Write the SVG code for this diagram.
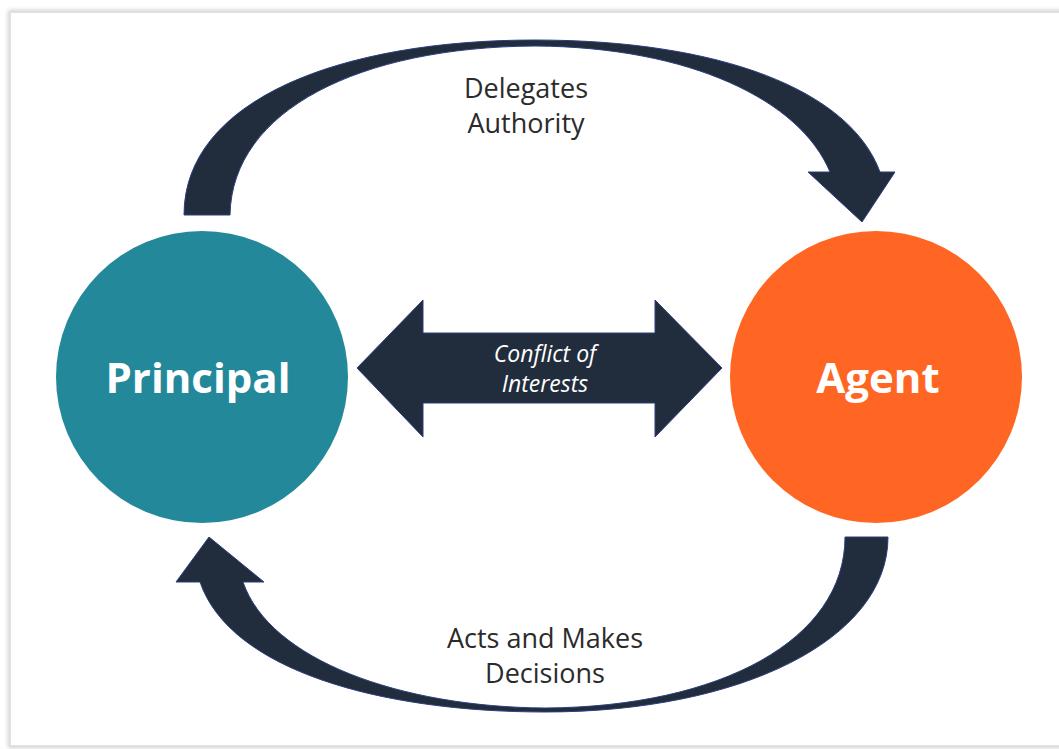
<svg xmlns="http://www.w3.org/2000/svg" width="1059" height="749" viewBox="0 0 1059 749">
  <defs>
    <filter id="shadow" x="-5%" y="-5%" width="110%" height="110%">
      <feGaussianBlur stdDeviation="2"/>
    </filter>
  </defs>
  <style>
    .arrow { fill: #212d3d; stroke: #2d3f80; stroke-width: 1; }
    .label { font-family: "Open Sans", "Liberation Sans", sans-serif; font-size: 27px; fill: #2b2b2b; text-anchor: middle; }
    .node-text { font-family: "Open Sans", "Liberation Sans", sans-serif; font-size: 42px; font-weight: bold; fill: #ffffff; text-anchor: middle; }
    .mid-text { font-family: "Open Sans", "Liberation Sans", sans-serif; font-size: 23px; font-style: italic; fill: #ffffff; text-anchor: middle; }
  </style>
  <rect width="1059" height="749" fill="#ffffff"/>
  <rect x="10" y="12" width="1070" height="734" fill="none" stroke="#bdbdbd" stroke-width="3" filter="url(#shadow)"/>
  <rect x="10.5" y="12.5" width="1070" height="733" fill="#ffffff" stroke="#e2e2e2" stroke-width="1"/>

  <g id="connectors">
    <g id="delegates">
      <path class="arrow" d="M184,215 C184,100 340,40 535,40 C720,40 850,90 880,172 L895,172 L862,222 L808,172 L830,172 C800,100 690,47 535,46 C360,47 232,110 230,215 Z"/>
      <text class="label" x="526" y="98">Delegates</text>
      <text class="label" x="526" y="133">Authority</text>
    </g>
    <g id="acts">
      <path class="arrow" d="M888,537 C888,640 740,712 545,712 C380,712 230,670 200,582 L176,582 L209,537 L264,582 L243,582 C270,660 400,707 545,708 C720,707 845,640 845,537 Z"/>
      <text class="label" x="545" y="648">Acts and Makes</text>
      <text class="label" x="545" y="683">Decisions</text>
    </g>
    <g id="conflict">
      <polygon class="arrow" points="357,368 423,300 423,333 655,333 655,300 722,368 655,437 655,403 423,403 423,437"/>
      <text class="mid-text" x="545" y="362">Conflict of</text>
      <text class="mid-text" x="545" y="392">Interests</text>
    </g>
  </g>

  <g id="principal">
    <circle cx="202" cy="377" r="146" fill="#23899a"/>
    <text class="node-text" x="198" y="393">Principal</text>
  </g>
  <g id="agent">
    <circle cx="876" cy="377" r="146" fill="#ff6624"/>
    <text class="node-text" x="878" y="393">Agent</text>
  </g>
</svg>
